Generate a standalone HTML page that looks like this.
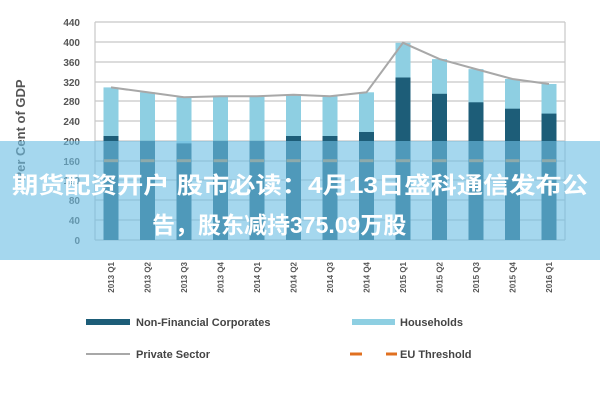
<!DOCTYPE html>
<html><head><meta charset="utf-8"><style>
body{margin:0;background:#fff;width:600px;height:400px;overflow:hidden}
</style></head><body>
<svg width="600" height="400" xmlns="http://www.w3.org/2000/svg" font-family="Liberation Sans, sans-serif">
<rect width="600" height="400" fill="#fff"/>
<g stroke="#c8c8c8" stroke-width="1.2">
<line x1="95" y1="22" x2="565" y2="22"/><line x1="95" y1="42" x2="565" y2="42"/><line x1="95" y1="62" x2="565" y2="62"/><line x1="95" y1="82" x2="565" y2="82"/><line x1="95" y1="101" x2="565" y2="101"/><line x1="95" y1="121" x2="565" y2="121"/><line x1="95" y1="141" x2="565" y2="141"/><line x1="95" y1="161" x2="565" y2="161"/><line x1="95" y1="180" x2="565" y2="180"/><line x1="95" y1="200" x2="565" y2="200"/><line x1="95" y1="220" x2="565" y2="220"/><line x1="95" y1="240" x2="565" y2="240"/>
<line x1="95" y1="22" x2="95" y2="240"/><line x1="565" y1="22" x2="565" y2="240"/>
</g>
<g font-size="10" fill="#555" text-anchor="end" font-weight="bold">
<text x="80" y="26">440</text><text x="80" y="46">400</text><text x="80" y="66">360</text><text x="80" y="86">320</text><text x="80" y="105">280</text><text x="80" y="125">240</text><text x="80" y="145">200</text><text x="80" y="165">160</text><text x="80" y="184">120</text><text x="80" y="204">80</text><text x="80" y="224">40</text><text x="80" y="244">0</text>
</g>
<text transform="translate(25,130) rotate(-90)" font-size="13" fill="#555" font-weight="bold" text-anchor="middle">Per Cent of GDP</text>
<g fill="#8ecfe2">
<rect x="103.5" y="87.4" width="15" height="152.6"/>
<rect x="140" y="92.3" width="15" height="147.7"/>
<rect x="176.5" y="97.3" width="15" height="142.7"/>
<rect x="213" y="96.3" width="15" height="143.7"/>
<rect x="249.5" y="96.3" width="15" height="143.7"/>
<rect x="286" y="94.8" width="15" height="145.2"/>
<rect x="322.5" y="96.3" width="15" height="143.7"/>
<rect x="359" y="92.3" width="15" height="147.7"/>
<rect x="395.5" y="42.8" width="15" height="197.2"/>
<rect x="432" y="59.1" width="15" height="180.9"/>
<rect x="468.5" y="69.1" width="15" height="170.9"/>
<rect x="505" y="79" width="15" height="161"/>
<rect x="541.5" y="84" width="15" height="156"/>
</g>
<g fill="#1d5d78">
<rect x="103.5" y="136" width="15" height="104"/>
<rect x="140" y="140.9" width="15" height="99.1"/>
<rect x="176.5" y="143.4" width="15" height="96.6"/>
<rect x="213" y="140.9" width="15" height="99.1"/>
<rect x="249.5" y="140.9" width="15" height="99.1"/>
<rect x="286" y="136" width="15" height="104"/>
<rect x="322.5" y="136" width="15" height="104"/>
<rect x="359" y="132" width="15" height="108"/>
<rect x="395.5" y="77.5" width="15" height="162.5"/>
<rect x="432" y="93.8" width="15" height="146.2"/>
<rect x="468.5" y="102.3" width="15" height="137.7"/>
<rect x="505" y="108.7" width="15" height="131.3"/>
<rect x="541.5" y="113.6" width="15" height="126.4"/>
</g>
<polyline points="111,87.4 147.5,92.3 184,97.3 220.5,96.3 257,96.3 293.5,94.8 330,96.3 366.5,92.3 403,42.8 439.5,59.1 476,69.1 512.5,79 549,84" fill="none" stroke="#a8a8a8" stroke-width="2"/>
<g stroke="#c08a50" stroke-width="3">
<line x1="104" y1="160.7" x2="118" y2="160.7"/><line x1="140.5" y1="160.7" x2="154.5" y2="160.7"/><line x1="177" y1="160.7" x2="191" y2="160.7"/><line x1="213.5" y1="160.7" x2="227.5" y2="160.7"/><line x1="250" y1="160.7" x2="264" y2="160.7"/><line x1="286.5" y1="160.7" x2="300.5" y2="160.7"/><line x1="323" y1="160.7" x2="337" y2="160.7"/><line x1="359.5" y1="160.7" x2="373.5" y2="160.7"/><line x1="396" y1="160.7" x2="410" y2="160.7"/><line x1="432.5" y1="160.7" x2="446.5" y2="160.7"/><line x1="469" y1="160.7" x2="483" y2="160.7"/><line x1="505.5" y1="160.7" x2="519.5" y2="160.7"/><line x1="542" y1="160.7" x2="556" y2="160.7"/>
</g>
<g font-size="8" fill="#555" text-anchor="end" font-weight="bold">
<text transform="translate(114,262) rotate(-90)">2013 Q1</text>
<text transform="translate(150.5,262) rotate(-90)">2013 Q2</text>
<text transform="translate(187,262) rotate(-90)">2013 Q3</text>
<text transform="translate(223.5,262) rotate(-90)">2013 Q4</text>
<text transform="translate(260,262) rotate(-90)">2014 Q1</text>
<text transform="translate(296.5,262) rotate(-90)">2014 Q2</text>
<text transform="translate(333,262) rotate(-90)">2014 Q3</text>
<text transform="translate(369.5,262) rotate(-90)">2014 Q4</text>
<text transform="translate(406,262) rotate(-90)">2015 Q1</text>
<text transform="translate(442.5,262) rotate(-90)">2015 Q2</text>
<text transform="translate(479,262) rotate(-90)">2015 Q3</text>
<text transform="translate(515.5,262) rotate(-90)">2015 Q4</text>
<text transform="translate(552,262) rotate(-90)">2016 Q1</text>
</g>
<rect x="86" y="319" width="44" height="6" fill="#1d5d78"/>
<text x="136" y="326" font-size="11" font-weight="bold" fill="#444">Non-Financial Corporates</text>
<rect x="352" y="319" width="43" height="6" fill="#8ecfe2"/>
<text x="400" y="326" font-size="11" font-weight="bold" fill="#444">Households</text>
<line x1="86" y1="354" x2="130" y2="354" stroke="#a8a8a8" stroke-width="2"/>
<text x="136" y="358" font-size="11" font-weight="bold" fill="#444">Private Sector</text>
<line x1="350" y1="354" x2="362" y2="354" stroke="#e07020" stroke-width="3"/>
<line x1="386" y1="354" x2="397" y2="354" stroke="#e07020" stroke-width="3"/>
<text x="400" y="358" font-size="11" font-weight="bold" fill="#444">EU Threshold</text>
<rect x="0" y="141" width="600" height="119" fill="rgba(110,190,228,0.62)"/>
<g font-family="Liberation Sans, Noto Sans CJK SC, sans-serif" font-size="23" font-weight="bold" fill="#fff">
<text x="300" y="193" text-anchor="middle" textLength="576" lengthAdjust="spacingAndGlyphs">期货配资开户 股市必读：4月13日盛科通信发布公</text>
<text x="152" y="233">告，股东减持375.09万股</text>
</g>
</svg>
</body></html>
